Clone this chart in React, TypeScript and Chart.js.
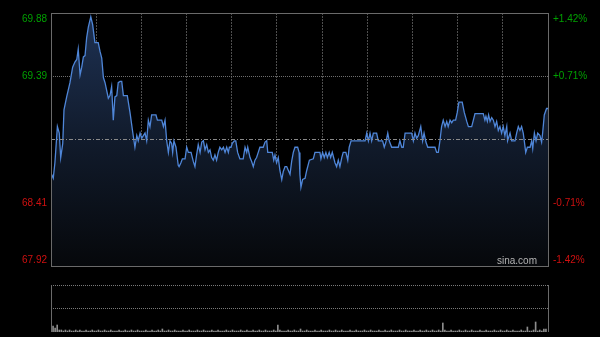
import React, { useEffect, useRef } from "react";
import { Chart, registerables } from "chart.js";

Chart.register(...registerables);

// ---- data ----
const prevClose = 68.9;
const priceMin = 67.92;
const priceMax = 69.88;
const priceTicks = [69.88, 69.39, 68.41, 67.92];
const sessionMinutes = 241;
const timeGridCount = 11;
const watermark = "sina.com";

const times = [
  0, 1.1, 1.9, 3.1, 4.0, 4.7, 5.7, 6.3, 7.6, 9.2, 10.5, 11.6, 12.5, 13.2, 14.1, 14.9, 15.7, 16.5, 17.3, 18.1,
  19.3, 20.2, 21.3, 22.9, 23.8, 24.6, 25.4, 26.2, 27.8, 28.6, 29.4, 30.2, 31.0, 31.9, 32.6, 33.5, 34.3, 35.1, 37.0, 38.3,
  39.6, 40.7, 41.6, 42.3, 43.2, 44.0, 44.8, 45.6, 46.4, 47.2, 48.0, 48.8, 50.9, 51.6, 53.7, 54.5, 55.3, 56.1, 56.9, 57.7,
  58.5, 59.0, 59.6, 60.6, 61.7, 62.1, 63.0, 63.7, 65.0, 65.8, 66.6, 67.9, 69.0, 69.8, 70.6, 71.4, 72.3, 73.1, 73.9, 74.7,
  75.5, 76.3, 77.1, 77.9, 78.7, 79.5, 80.3, 81.1, 81.9, 82.8, 83.6, 84.4, 85.2, 86.0, 86.5, 87.3, 87.9, 88.9, 89.6, 90.5,
  91.6, 93.2, 94.1, 94.9, 95.4, 96.5, 97.3, 98.1, 98.9, 99.7, 100.5, 101.3, 102.9, 103.8, 104.6, 105.1, 106.2, 107.3, 108.0, 108.6,
  109.4, 110.2, 111.0, 111.9, 112.6, 113.5, 114.3, 115.1, 115.9, 116.7, 117.5, 118.3, 119.6, 120.3, 120.7, 121.2, 122.0, 123.2, 124.0, 125.3,
  127.2, 128.0, 130.4, 130.9, 131.7, 132.5, 133.3, 134.0, 134.9, 135.6, 136.4, 137.7, 138.5, 139.3, 140.1, 141.0, 141.7, 143.0, 143.9, 144.6,
  145.5, 152.3, 153.1, 153.9, 154.7, 155.5, 156.3, 157.9, 158.7, 160.8, 161.6, 162.4, 163.3, 164.0, 165.2, 168.4, 169.2, 170.1, 170.8, 171.7,
  174.9, 175.7, 176.5, 177.3, 178.1, 179.3, 180.2, 180.9, 181.8, 182.7, 186.2, 187.0, 187.8, 188.6, 189.4, 190.2, 191.1, 191.9, 192.6, 193.5,
  194.3, 195.1, 196.2, 197.0, 197.8, 199.4, 200.4, 201.6, 202.4, 204.0, 204.8, 205.6, 209.6, 210.4, 210.9, 211.6, 212.2, 212.9, 213.7, 214.5,
  215.3, 216.1, 216.9, 217.7, 218.5, 219.3, 220.1, 221.0, 221.4, 222.6, 223.4, 225.0, 225.8, 226.6, 227.4, 228.2, 229.0, 229.5, 230.2, 231.0,
  232.3, 233.1, 233.6, 234.4, 235.2, 236.0, 237.1, 237.9, 238.4, 239.2, 240.3, 241,
];

const prices = [
  68.64, 68.6, 68.72, 69.0, 68.95, 68.76, 68.87, 69.13, 69.23, 69.34, 69.46, 69.5, 69.52, 69.6, 69.4, 69.46, 69.54, 69.55, 69.69, 69.77,
  69.85, 69.79, 69.65, 69.65, 69.58, 69.53, 69.38, 69.34, 69.22, 69.24, 69.31, 69.05, 69.23, 69.24, 69.34, 69.35, 69.35, 69.24, 69.24, 69.11,
  68.96, 68.84, 68.93, 68.89, 68.95, 68.91, 68.93, 68.95, 68.89, 69.05, 69.0, 69.09, 69.09, 69.05, 69.05, 69.0, 69.05, 68.89, 68.8, 68.89,
  68.87, 68.8, 68.89, 68.84, 68.7, 68.69, 68.72, 68.75, 68.75, 68.84, 68.8, 68.8, 68.73, 68.69, 68.78, 68.86, 68.8, 68.88, 68.89, 68.82,
  68.86, 68.8, 68.82, 68.76, 68.74, 68.78, 68.74, 68.8, 68.84, 68.82, 68.84, 68.8, 68.84, 68.8, 68.84, 68.84, 68.87, 68.89, 68.89, 68.8,
  68.75, 68.75, 68.84, 68.8, 68.84, 68.76, 68.73, 68.69, 68.74, 68.76, 68.8, 68.84, 68.84, 68.88, 68.89, 68.8, 68.8, 68.8, 68.74, 68.78,
  68.72, 68.76, 68.66, 68.59, 68.65, 68.69, 68.69, 68.66, 68.63, 68.73, 68.8, 68.84, 68.84, 68.8, 68.63, 68.53, 68.59, 68.6, 68.66, 68.74,
  68.75, 68.8, 68.8, 68.75, 68.8, 68.76, 68.8, 68.76, 68.8, 68.76, 68.8, 68.72, 68.69, 68.74, 68.69, 68.76, 68.8, 68.8, 68.74, 68.84,
  68.89, 68.89, 68.95, 68.89, 68.95, 68.89, 68.95, 68.95, 68.89, 68.89, 68.84, 68.88, 68.95, 68.89, 68.84, 68.84, 68.89, 68.84, 68.84, 68.95,
  68.95, 68.89, 68.95, 68.91, 68.93, 69.0, 68.89, 68.95, 68.88, 68.84, 68.84, 68.8, 68.8, 68.89, 69.0, 69.05, 69.0, 69.04, 69.0, 69.05,
  69.03, 69.05, 69.05, 69.11, 69.19, 69.19, 69.11, 69.04, 69.0, 69.0, 69.05, 69.1, 69.1, 69.05, 69.08, 69.04, 69.09, 69.04, 69.07, 69.05,
  69.0, 69.04, 68.97, 69.0, 68.95, 69.0, 68.93, 69.0, 68.89, 68.95, 68.89, 68.89, 68.95, 69.0, 68.97, 69.0, 68.95, 68.89, 68.8, 68.84,
  68.84, 68.89, 68.83, 68.95, 68.89, 68.95, 68.93, 68.88, 68.95, 69.09, 69.14, 69.14,
];

const volumes = [
  10, 6, 4, 7, 2, 2, 1, 2, 1, 2, 1, 1, 2, 1, 2, 1, 1, 2, 1, 1,
  2, 1, 1, 2, 1, 1, 2, 1, 1, 2, 1, 1, 1, 2, 1, 1, 2, 1, 1, 2,
  1, 1, 2, 1, 1, 1, 2, 1, 1, 2, 1, 1, 2, 1, 3, 1, 1, 2, 1, 1,
  2, 1, 1, 1, 2, 1, 1, 2, 1, 1, 1, 2, 1, 1, 2, 1, 1, 1, 2, 1,
  1, 2, 1, 1, 1, 2, 1, 1, 2, 1, 1, 1, 2, 1, 1, 2, 1, 1, 2, 1,
  1, 2, 1, 1, 2, 1, 1, 1, 2, 1, 7, 2, 1, 1, 1, 2, 1, 1, 2, 1,
  1, 3, 1, 1, 2, 1, 1, 1, 2, 1, 1, 2, 1, 1, 1, 2, 1, 1, 2, 1,
  1, 2, 1, 1, 1, 2, 1, 1, 2, 1, 1, 1, 2, 1, 1, 2, 1, 1, 1, 2,
  1, 1, 2, 1, 1, 2, 1, 1, 1, 2, 1, 1, 2, 1, 1, 1, 2, 1, 1, 2,
  1, 1, 2, 1, 1, 2, 1, 1, 2, 1, 9, 2, 1, 1, 2, 1, 1, 1, 2, 1,
  1, 2, 1, 1, 2, 1, 1, 1, 2, 1, 1, 2, 1, 1, 1, 2, 1, 1, 2, 1,
  1, 2, 1, 1, 2, 1, 1, 1, 2, 1, 1, 5, 1, 1, 2, 10, 1, 2, 1, 3,
  3,
];
const volumeMax = 47;

const FONT = "'Liberation Sans', Arial, sans-serif";
const pct = (v: number) => ((v - prevClose) / prevClose) * 100;

const timeTicks = (s: any) => {
  s.ticks = Array.from({ length: timeGridCount + 1 }, (_, k) => ({ value: (k * sessionMinutes) / timeGridCount }));
};

export default function App() {
  const priceRef = useRef<HTMLCanvasElement>(null);
  const volRef = useRef<HTMLCanvasElement>(null);

  useEffect(() => {
    const framePlugin = {
      id: "frame",
      afterDatasetsDraw(chart: any) {
        const { ctx, chartArea: a } = chart;
        ctx.save();
        ctx.strokeStyle = "#6a6a6a";
        ctx.lineWidth = 1;
        ctx.strokeRect(Math.round(a.left) + 0.5, Math.round(a.top) + 0.5, Math.round(a.right - a.left), Math.round(a.bottom - a.top));
        ctx.restore();
      },
    };
    const labelPlugin = {
      id: "labels",
      afterDraw(chart: any) {
        const { ctx, chartArea: a } = chart;
        const ys = chart.scales.y;
        const yr = chart.scales.y2;
        ctx.save();
        ctx.font = `10px ${FONT}`;
        ctx.textBaseline = "middle";
        priceTicks.forEach((v) => {
          let py = ys.getPixelForValue(v);
          if (Math.abs(py - a.top) < 2) py = a.top + 6;
          if (Math.abs(py - a.bottom) < 2) py = a.bottom - 6;
          const up = v > prevClose;
          ctx.fillStyle = up ? "#00a000" : "#d01010";
          ctx.textAlign = "right";
          ctx.fillText(v.toFixed(2), a.left - 4, py);
          const p = pct(v);
          let ry = yr.getPixelForValue(p);
          if (Math.abs(ry - a.top) < 2) ry = a.top + 6;
          if (Math.abs(ry - a.bottom) < 2) ry = a.bottom - 6;
          ctx.textAlign = "left";
          ctx.fillText((p > 0 ? "+" : "") + p.toFixed(2) + "%", a.right + 5, ry);
        });
        ctx.fillStyle = "#b4b4b4";
        ctx.textAlign = "right";
        ctx.fillText(watermark, a.right - 11, a.bottom - 5);
        ctx.restore();
      },
    };

    const pricePoints = times.map((t, i) => ({ x: t, y: prices[i] }));
    const priceChart = new Chart(priceRef.current as HTMLCanvasElement, {
      type: "line",
      data: {
        datasets: [
          {
            data: pricePoints,
            borderColor: "#4f86d8",
            borderWidth: 1.3,
            pointRadius: 0,
            tension: 0,
            fill: "start",
            backgroundColor: (c: any) => {
              const a = c.chart.chartArea;
              if (!a) return "rgba(20,35,60,1)";
              const g = c.chart.ctx.createLinearGradient(0, a.top, 0, a.bottom);
              g.addColorStop(0, "#1e3254");
              g.addColorStop(0.5, "#111b2c");
              g.addColorStop(1, "#06080b");
              return g;
            },
            order: 1,
          } as any,
          {
            data: [
              { x: 0, y: prevClose },
              { x: sessionMinutes, y: prevClose },
            ],
            borderColor: "#8a8a8a",
            borderWidth: 1,
            borderDash: [4, 2, 1, 2],
            pointRadius: 0,
            fill: false,
            order: 0,
          } as any,
        ],
      },
      options: {
        animation: false,
        responsive: false,
        maintainAspectRatio: false,
        layout: { padding: { top: 13, bottom: 6, left: 0, right: 0 } },
        plugins: { legend: { display: false }, tooltip: { enabled: false } },
        scales: {
          x: {
            type: "linear",
            min: 0,
            max: sessionMinutes,
            afterBuildTicks: timeTicks,
            afterFit: (s: any) => {
              s.height = 0;
            },
            ticks: { display: false },
            grid: {
              color: (c: any) => (c.index === 0 || c.index === timeGridCount ? "rgba(0,0,0,0)" : "#4e4e4e"),
              drawTicks: false,
            },
            border: { display: false, dash: [2, 1] },
          },
          y: {
            position: "left",
            min: priceMin,
            max: priceMax,
            afterBuildTicks: (s: any) => {
              s.ticks = priceTicks.map((v) => ({ value: v }));
            },
            afterFit: (s: any) => {
              s.width = 51;
            },
            ticks: { display: false },
            grid: { color: "#6e6e6e", drawTicks: false },
            border: { display: false, dash: [1, 1] },
          },
          y2: {
            position: "right",
            min: pct(priceMin),
            max: pct(priceMax),
            afterFit: (s: any) => {
              s.width = 52;
            },
            ticks: { display: false },
            grid: { display: false },
            border: { display: false },
          },
        },
      } as any,
      plugins: [framePlugin, labelPlugin],
    });

    const volFrame = {
      id: "volFrame",
      afterDatasetsDraw(chart: any) {
        const { ctx, chartArea: a } = chart;
        ctx.save();
        ctx.strokeStyle = "#6a6a6a";
        ctx.lineWidth = 1;
        ctx.beginPath();
        ctx.moveTo(Math.round(a.left) + 0.5, a.top);
        ctx.lineTo(Math.round(a.left) + 0.5, a.bottom);
        ctx.moveTo(Math.round(a.right) + 0.5, a.top);
        ctx.lineTo(Math.round(a.right) + 0.5, a.bottom);
        ctx.stroke();
        ctx.restore();
      },
    };

    const volChart = new Chart(volRef.current as HTMLCanvasElement, {
      type: "bar",
      data: {
        datasets: [
          {
            data: volumes.map((v, i) => ({ x: i, y: v })),
            backgroundColor: "#8c8c8c",
            barThickness: 1,
          } as any,
        ],
      },
      options: {
        animation: false,
        responsive: false,
        maintainAspectRatio: false,
        layout: { padding: { top: 13, bottom: 5, left: 0, right: 52 } },
        plugins: { legend: { display: false }, tooltip: { enabled: false } },
        scales: {
          x: {
            type: "linear",
            offset: false,
            min: 0,
            max: sessionMinutes,
            afterFit: (s: any) => {
              s.height = 0;
            },
            ticks: { display: false },
            grid: { display: false },
            border: { display: false },
          },
          y: {
            min: 0,
            max: volumeMax,
            afterBuildTicks: (s: any) => {
              s.ticks = [{ value: volumeMax / 2 }, { value: volumeMax }];
            },
            afterFit: (s: any) => {
              s.width = 51;
            },
            ticks: { display: false },
            grid: { color: "#7a7a7a", drawTicks: false },
            border: { display: false, dash: [1, 1] },
          },
        },
      } as any,
      plugins: [volFrame],
    });

    return () => {
      priceChart.destroy();
      volChart.destroy();
    };
  }, []);

  return (
    <div style={{ position: "absolute", left: 0, top: 0, width: 600, height: 337, background: "#000", overflow: "hidden" }}>
      <canvas ref={priceRef} width={600} height={272} style={{ position: "absolute", left: 0, top: 0, width: 600, height: 272 }} />
      <canvas ref={volRef} width={600} height={65} style={{ position: "absolute", left: 0, top: 272, width: 600, height: 65 }} />
    </div>
  );
}
